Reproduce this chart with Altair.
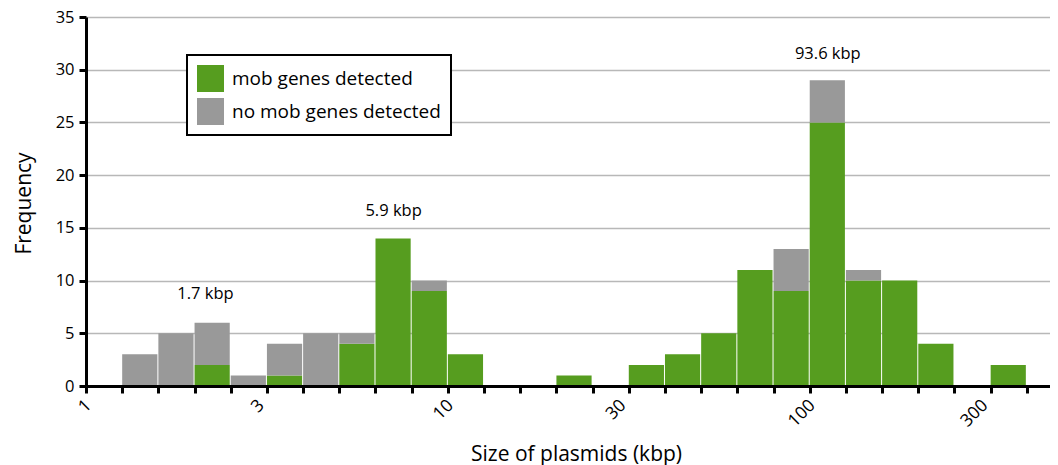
import altair as alt
import pandas as pd

# ---- data ----
# histogram bins on log10(size in kbp), each 0.1 decade wide
bin_lo = [0.0, 0.1, 0.2, 0.3, 0.4, 0.5, 0.6, 0.7, 0.8, 0.9, 1.0, 1.1, 1.2,
          1.3, 1.4, 1.5, 1.6, 1.7, 1.8, 1.9, 2.0, 2.1, 2.2, 2.3, 2.4, 2.5]
mob_counts = [0, 0, 0, 2, 0, 1, 0, 4, 14, 9, 3, 0, 0,
              1, 0, 2, 3, 5, 11, 9, 25, 10, 10, 4, 0, 2]
nomob_counts = [0, 3, 5, 4, 1, 3, 5, 1, 0, 1, 0, 0, 0,
                0, 0, 0, 0, 0, 0, 4, 4, 1, 0, 0, 0, 0]
groups = ["mob genes detected", "no mob genes detected"]
group_colors = ["#569D1F", "#999999"]

# tick marks (bin edges) and labelled sizes on the log axis
edge_ticks = [0.0, 0.1, 0.2, 0.3, 0.4, 0.5, 0.6, 0.7, 0.8, 0.9, 1.0, 1.1, 1.2, 1.3,
              1.4, 1.5, 1.6, 1.7, 1.8, 1.9, 2.0, 2.1, 2.2, 2.3, 2.4, 2.5, 2.6]
label_sizes_log = [0.0, 0.47712, 1.0, 1.47712, 2.0, 2.47712]

# peak annotations
ann_text = ["1.7 kbp", "5.9 kbp", "93.6 kbp"]
ann_x = [0.33, 0.85, 2.05]
ann_y = [8.7, 16.6, 31.5]

bin_width = 0.1

rows = []
for lo, m, n in zip(bin_lo, mob_counts, nomob_counts):
    for gi, (g, c) in enumerate(zip(groups, [m, n])):
        if c > 0:
            rows.append({"lo": lo, "hi": round(lo + bin_width, 2), "count": c,
                         "group": g, "order": gi})
df = pd.DataFrame(rows)
ann_df = pd.DataFrame({"x": ann_x, "y": ann_y, "label": ann_text})

FONT = "Open Sans"
x_scale = alt.Scale(domain=[0, 2.664], nice=False, zero=False)
y_scale = alt.Scale(domain=[0, 35], nice=False)

y_axis = alt.Axis(values=[0, 5, 10, 15, 20, 25, 30, 35], orient="left",
                  tickSize=7, tickWidth=3, tickColor="black",
                  domainColor="black", domainWidth=3,
                  labelFontSize=16.5, labelColor="black", labelPadding=5,
                  grid=True, gridColor="#b8b8b8", gridWidth=1.5,
                  title="Frequency", titleFontSize=21,
                  titleFontWeight="normal", titleColor="black",
                  titleX=-62, titleY=186, titleBaseline="middle")

bars = alt.Chart(df).transform_stack(
    stack="count", groupby=["lo"], as_=["y0", "y1"],
    sort=[alt.SortField("order", order="ascending")],
).mark_bar(x2Offset=-1).encode(
    x=alt.X("lo:Q", scale=x_scale,
            axis=alt.Axis(values=edge_ticks, labels=False, title=None,
                          orient="bottom",
                          ticks=True, tickSize=7, tickWidth=3, tickColor="black",
                          domainColor="black", domainWidth=3, grid=False,
                          zindex=1)),
    x2="hi:Q",
    y=alt.Y("y0:Q", scale=y_scale, axis=y_axis),
    y2="y1:Q",
    color=alt.Color("group:N", scale=alt.Scale(domain=groups, range=group_colors),
                    legend=alt.Legend(title=None, orient="none", legendX=101,
                                      legendY=38, direction="vertical",
                                      symbolType="square", symbolSize=729,
                                      symbolStrokeWidth=0, symbolOpacity=1,
                                      labelFontSize=19, labelColor="black",
                                      labelLimit=400,
                                      labelOffset=8, rowPadding=6, padding=10,
                                      strokeColor="black", fillColor="white")),
)

labels = alt.Chart(ann_df).mark_text(fontSize=16.5, font=FONT, color="black").encode(
    x=alt.X("x:Q", scale=x_scale,
            axis=alt.Axis(values=label_sizes_log, orient="bottom",
                          labelExpr="format(pow(10, datum.value), '.0f')",
                          labelAngle=315, labelAlign="right", labelBaseline="top",
                          labelFontSize=17.5, labelColor="black", labelPadding=10,
                          labelOffset=-4,
                          labelFlush=False, labelOverlap=False, labelBound=False,
                          ticks=False, tickSize=0, domain=False, grid=False,
                          title="Size of plasmids (kbp)", titleFontSize=21,
                          titleFontWeight="normal", titleColor="black",
                          titleX=490, titleY=74, titleBaseline="alphabetic",
                          zindex=1)),
    y=alt.Y("y:Q", scale=y_scale, axis=y_axis),
    text="label:N",
)

chart = alt.layer(bars, labels).resolve_axis(x="independent").properties(
    width=964, height=369,
    autosize=alt.AutoSizeParams(type="none"),
    padding={"left": 78, "top": 9, "right": 0, "bottom": 79},
).configure(font=FONT).configure_view(stroke="transparent").configure_legend(
    strokeWidth=2
)

chart.save("out.html", embed_options={"renderer": "svg", "actions": False})
